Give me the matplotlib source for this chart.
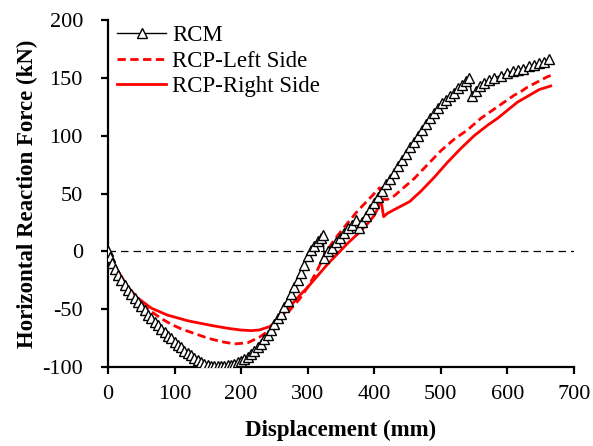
import matplotlib
matplotlib.use("Agg")
import matplotlib.pyplot as plt

plt.rcParams['font.family'] = ['Liberation Serif', 'DejaVu Serif']
plt.rcParams['axes.unicode_minus'] = False

# RCM
rcm_x = [0, 3, 6, 10, 15, 20, 25, 30, 35, 40, 45, 50, 55, 60, 65, 70, 75, 80, 85, 90, 95,
         100, 105, 110, 115, 120, 125, 130, 135, 140, 145, 150, 155, 160, 165, 170, 175,
         180, 185, 190, 195, 200, 205, 210, 215, 220, 225, 230, 235, 240, 245, 250, 255,
         260, 265, 270, 275, 280, 285, 290, 295, 300, 305, 310, 315, 320, 323, 325, 330,
         336, 342, 348, 354, 360, 366, 372, 377, 382, 388, 394, 400, 406, 412, 418, 424,
         430, 436, 442, 448, 454, 460, 466, 472, 478, 484, 490, 496, 502, 508, 514, 520,
         526, 532, 538, 542, 547, 553, 559, 565, 572, 580, 590, 600, 608, 616, 624, 632,
         640, 648, 655, 662]
rcm_y = [0, -5, -10, -15, -20, -25, -29, -33, -37, -40, -44, -47, -51, -55, -58, -61, -64, -67, -70, -73, -75,
         -78, -81, -83, -86, -88, -90, -92, -94, -96, -97.5, -98.5, -99, -99.5, -99.5, -99.5, -99,
         -98.5, -98, -97, -96, -95, -93, -91, -89, -86, -83, -80, -76, -72, -68, -63, -58,
         -54, -48, -43, -37, -31, -25, -19, -12, -4, 1, 5, 9, 12, 14, -6, 0,
         3, 8, 12, 16, 20, 23, 27, 20, 25, 31, 37, 42, 47, 52, 58, 63,
         68, 74, 79, 84, 90, 95, 100, 105, 110, 115, 120, 124, 128, 131, 134, 137,
         141, 144, 147, 150, 134, 139, 143, 146, 148, 150, 152, 154, 156, 157, 158, 160,
         161, 163, 164, 166]

# RCP - Left Side
left_x = [0, 5, 10, 20, 30, 40, 55, 70, 80, 95, 110, 130, 150, 170, 190, 210, 228, 243,
          258, 273, 288, 300, 313, 328, 340, 355, 375, 395, 408, 412, 420, 430, 440, 450,
          460, 470, 480, 490, 500, 510, 520, 530, 540, 550, 560, 570, 580, 590, 600, 610,
          620, 630, 640, 650, 660, 665]
left_y = [0, -7, -14, -25, -34, -41, -48, -54, -58, -63, -67, -71, -75, -78, -80, -79, -74, -68,
          -60, -51, -41, -31, -18, 0, 10, 21, 35, 47, 55, 45, 45, 48, 53, 58,
          63, 69, 75, 81, 87, 92, 97, 101, 105, 110, 115, 119, 123, 127, 131, 135,
          138, 142, 145, 148, 151, 152]

# RCP - Right Side
right_x = [0, 5, 14, 29, 44, 65, 89, 120, 155, 180, 200, 215, 227, 243, 258, 273, 288,
           300, 315, 330, 345, 360, 375, 390, 400, 406, 410, 414, 420, 433, 453, 470, 490,
           510, 530, 550, 570, 585, 600, 615, 633, 648, 665]
right_y = [0, -6, -16, -30, -40, -49, -55, -60, -64, -66.5, -68, -68.5, -68, -65, -58, -48, -38,
           -31, -21, -11, -2, 7, 15, 24, 31, 38, 45, 30, 33, 37, 43, 52, 64,
           77, 89, 100, 109, 115, 122, 129, 135, 140, 143]

fig = plt.figure(figsize=(5.93, 4.46), dpi=100)
ax = fig.add_axes([0.182, 0.177, 0.786, 0.778])

ax.axhline(0, color='black', lw=0.9, ls=(0, (6, 4)), zorder=1)
ax.plot(rcm_x, rcm_y, color='black', lw=1.0, marker='^', ms=7, mfc='white',
        mec='black', mew=1.0, label='RCM', zorder=3)
ax.plot(left_x, left_y, color='red', lw=2.0, ls=(0, (3, 1.6)), label='RCP-Left Side', zorder=2)
ax.plot(right_x, right_y, color='red', lw=2.0, label='RCP-Right Side', zorder=2)

ax.set_xlim(0, 700)
ax.set_ylim(-100, 200)
ax.set_xticks(range(0, 701, 100))
ax.set_yticks(range(-100, 201, 50))
for s in ['top', 'right']:
    ax.spines[s].set_visible(False)
for s in ['left', 'bottom']:
    ax.spines[s].set_linewidth(1.6)
ax.tick_params(direction='out', length=5, width=1.6, labelsize=16)
ax.tick_params(axis='x', pad=8)
ax.tick_params(axis='y', pad=13)
ax.set_xlabel('Displacement (mm)', fontsize=16.5, fontweight='bold', labelpad=11)
ax.set_ylabel('Horizontal Reaction Force (kN)', fontsize=16.5, fontweight='bold', labelpad=3)

ax.legend(loc='upper left', frameon=False, fontsize=16.5, handlelength=2.15,
          borderaxespad=0.0, labelspacing=0.2, handletextpad=0.25,
          bbox_to_anchor=(0.0, 1.012))

fig.savefig('out.png', dpi=100)
